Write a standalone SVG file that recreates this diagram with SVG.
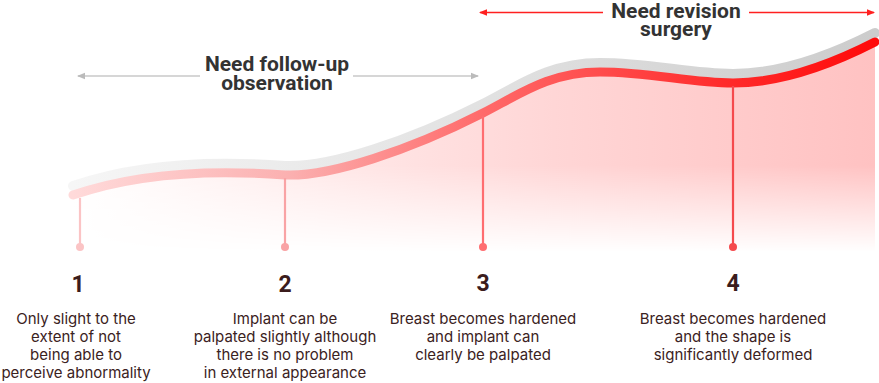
<svg xmlns="http://www.w3.org/2000/svg" width="879" height="383" viewBox="0 0 879 383">
<defs>
<style>
.hdr{font-family:Roboto,"Liberation Sans",sans-serif;font-weight:700;font-size:21px;fill:#333333;text-anchor:middle}
.num{font-family:Roboto,"Liberation Sans",sans-serif;font-weight:700;font-size:23px;fill:#3b1c1c;text-anchor:middle}
.desc{font-family:Inter,Roboto,"Liberation Sans",sans-serif;font-size:15px;fill:#3b2222;text-anchor:middle}
.stem{stroke-width:2.2;fill:none}
</style>
<linearGradient id="gRed" gradientUnits="userSpaceOnUse" x1="73" y1="0" x2="875" y2="0">
<stop offset="0" stop-color="#ffdada"/>
<stop offset="0.27" stop-color="#fbb0b0"/>
<stop offset="0.51" stop-color="#ff6a6a"/>
<stop offset="0.82" stop-color="#ff2a2a"/>
<stop offset="1" stop-color="#ff0a0a"/>
</linearGradient>
<linearGradient id="gGray" gradientUnits="userSpaceOnUse" x1="73" y1="0" x2="875" y2="0">
<stop offset="0" stop-color="#f6f6f6"/>
<stop offset="0.5" stop-color="#e2e2e2"/>
<stop offset="1" stop-color="#cccccc"/>
</linearGradient>
<linearGradient id="gFill" gradientUnits="userSpaceOnUse" x1="73" y1="0" x2="875" y2="0">
<stop offset="0" stop-color="#ffffff"/>
<stop offset="0.35" stop-color="#ffe6e6"/>
<stop offset="0.6" stop-color="#ffd6d6"/>
<stop offset="1" stop-color="#ffc2c2"/>
</linearGradient>
<linearGradient id="gMask" gradientUnits="userSpaceOnUse" x1="0" y1="60" x2="0" y2="252">
<stop offset="0" stop-color="#ffffff"/>
<stop offset="0.55" stop-color="#ffffff"/>
<stop offset="1" stop-color="#000000"/>
</linearGradient>
<mask id="fade" maskUnits="userSpaceOnUse" x="0" y="0" width="879" height="383">
<rect x="0" y="0" width="879" height="383" fill="url(#gMask)"/>
</mask>
<marker id="aG" viewBox="0 0 8 8" refX="7" refY="4" markerWidth="8" markerHeight="8" markerUnits="userSpaceOnUse" orient="auto-start-reverse">
<path d="M0,0.8 L8,4 L0,7.2 Z" fill="#bbbbbb"/>
</marker>
<marker id="aR" viewBox="0 0 8 8" refX="7" refY="4" markerWidth="8" markerHeight="8" markerUnits="userSpaceOnUse" orient="auto-start-reverse">
<path d="M0,0.8 L8,4 L0,7.2 Z" fill="#ff2020"/>
</marker>
</defs>
<rect width="879" height="383" fill="#ffffff"/>

<g id="area">
<path d="M73,195 C140,172 220,170 285,175 C330,177 410,150 483,113 C520,94 550,72 600,72 C650,72 690,83 733,83 C780,83 830,65 875,42 L875,260 L73,260 Z" fill="url(#gFill)" mask="url(#fade)"/>
</g>

<g id="curve">
<path d="M73,186 C140,163 220,161 285,166 C330,168 410,141 483,104 C520,85 550,63 600,63 C650,63 690,74 733,74 C780,74 830,56 875,33" fill="none" stroke="url(#gGray)" stroke-width="10" stroke-linecap="round"/>
<path d="M73,195 C140,172 220,170 285,175 C330,177 410,150 483,113 C520,94 550,72 600,72 C650,72 690,83 733,83 C780,83 830,65 875,42" fill="none" stroke="url(#gRed)" stroke-width="9" stroke-linecap="round"/>
</g>

<g id="connectors">
<line class="stem" x1="80" y1="198" x2="80" y2="247" stroke="#fbc4c5"/>
<line class="stem" x1="285" y1="178" x2="285" y2="247" stroke="#f9a3a5"/>
<line class="stem" x1="483" y1="116" x2="483" y2="247" stroke="#ff6d70"/>
<line class="stem" x1="733" y1="86" x2="733" y2="247" stroke="#f54a4d"/>
<line x1="78" y1="76" x2="200" y2="76" stroke="#c8c8c8" stroke-width="1.5" marker-start="url(#aG)"/>
<line x1="353" y1="76" x2="478" y2="76" stroke="#c8c8c8" stroke-width="1.5" marker-end="url(#aG)"/>
<line x1="480" y1="12.5" x2="603" y2="12.5" stroke="#ff2020" stroke-width="1.5" marker-start="url(#aR)"/>
<line x1="749" y1="12.5" x2="874" y2="12.5" stroke="#ff2020" stroke-width="1.5" marker-end="url(#aR)"/>
</g>

<g id="label-follow-up">
<text class="hdr" x="277" y="71">Need follow-up</text>
<text class="hdr" x="277" y="90">observation</text>
</g>
<g id="label-revision">
<text class="hdr" x="676" y="18">Need revision</text>
<text class="hdr" x="676" y="36">surgery</text>
</g>

<g id="node-1">
<circle cx="80" cy="247" r="4" fill="#fbc4c5"/>
<text class="num" x="78" y="292">1</text>
<text class="desc" x="76" y="324">Only slight to the</text>
<text class="desc" x="76" y="342">extent of not</text>
<text class="desc" x="76" y="360">being able to</text>
<text class="desc" x="76" y="378">perceive abnormality</text>
</g>
<g id="node-2">
<circle cx="285" cy="247" r="4" fill="#f9a3a5"/>
<text class="num" x="285" y="292">2</text>
<text class="desc" x="285" y="324">Implant can be</text>
<text class="desc" x="285" y="342">palpated slightly although</text>
<text class="desc" x="285" y="360">there is no problem</text>
<text class="desc" x="285" y="378">in external appearance</text>
</g>
<g id="node-3">
<circle cx="483" cy="247" r="4" fill="#ff6d70"/>
<text class="num" x="483" y="291">3</text>
<text class="desc" x="483" y="324">Breast becomes hardened</text>
<text class="desc" x="483" y="342">and implant can</text>
<text class="desc" x="483" y="360">clearly be palpated</text>
</g>
<g id="node-4">
<circle cx="733" cy="247" r="4" fill="#f54a4d"/>
<text class="num" x="733" y="291">4</text>
<text class="desc" x="733" y="324">Breast becomes hardened</text>
<text class="desc" x="733" y="342">and the shape is</text>
<text class="desc" x="733" y="360">significantly deformed</text>
</g>
</svg>
